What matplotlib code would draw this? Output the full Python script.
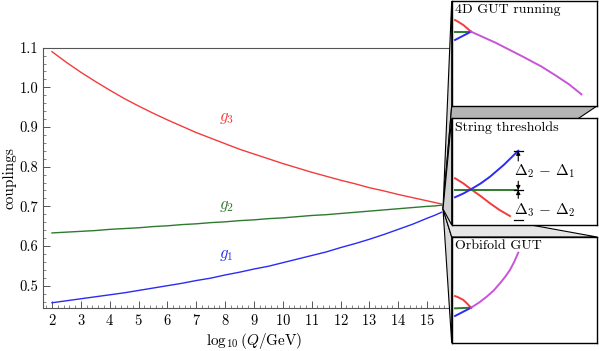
import numpy as np
import matplotlib
matplotlib.use("Agg")
import matplotlib.pyplot as plt
from matplotlib.patches import Polygon

plt.rcParams['font.family'] = ['cmr10', 'DejaVu Serif']
plt.rcParams['mathtext.fontset'] = 'cm'
plt.rcParams['axes.formatter.use_mathtext'] = True

# running couplings
logQ = [2, 2.5, 3, 3.5, 4, 4.5, 5, 5.5, 6, 6.5, 7, 7.5, 8, 8.5, 9, 9.5,
        10, 10.5, 11, 11.5, 12, 12.5, 13, 13.5, 14, 14.5, 15, 15.25, 15.5]
g3 = [1.090, 1.063, 1.038, 1.015, 0.993, 0.972, 0.953, 0.935, 0.918, 0.902,
      0.886, 0.872, 0.858, 0.844, 0.832, 0.820, 0.808, 0.797, 0.786, 0.776,
      0.766, 0.757, 0.747, 0.739, 0.730, 0.722, 0.714, 0.710, 0.706]
g2 = [0.633, 0.635, 0.637, 0.639, 0.642, 0.644, 0.646, 0.649, 0.651, 0.654,
      0.656, 0.659, 0.661, 0.664, 0.666, 0.669, 0.671, 0.674, 0.677, 0.679,
      0.682, 0.685, 0.688, 0.691, 0.694, 0.697, 0.700, 0.701, 0.703]
g1 = [0.457, 0.462, 0.467, 0.472, 0.477, 0.482, 0.488, 0.494, 0.500, 0.506,
      0.513, 0.519, 0.527, 0.534, 0.542, 0.549, 0.558, 0.567, 0.576, 0.585,
      0.596, 0.606, 0.617, 0.629, 0.642, 0.655, 0.670, 0.677, 0.685]

# inset sketches (fractions of each panel box)
p1_red_x, p1_red_y = [0.023, 0.05, 0.08, 0.105, 0.133], [0.819, 0.798, 0.771, 0.742, 0.708]
p1_grn_x, p1_grn_y = [0.023, 0.133], [0.708, 0.708]
p1_blu_x, p1_blu_y = [0.023, 0.133], [0.629, 0.708]
p1_mag_x = [0.133, 0.30, 0.49, 0.62, 0.721, 0.81, 0.893]
p1_mag_y = [0.708, 0.604, 0.470, 0.374, 0.286, 0.204, 0.111]

p2_red_x = [0.023, 0.08, 0.133, 0.20, 0.264, 0.33, 0.401]
p2_red_y = [0.438, 0.390, 0.335, 0.270, 0.203, 0.140, 0.084]
p2_grn_x, p2_grn_y = [0.023, 0.458], [0.328, 0.328]
p2_blu_x = [0.023, 0.08, 0.133, 0.20, 0.264, 0.36, 0.458]
p2_blu_y = [0.260, 0.295, 0.335, 0.390, 0.453, 0.565, 0.696]

p3_red_x, p3_red_y = [0.023, 0.05, 0.08, 0.105, 0.133], [0.443, 0.428, 0.406, 0.374, 0.333]
p3_grn_x, p3_grn_y = [0.023, 0.133], [0.327, 0.333]
p3_blu_x, p3_blu_y = [0.023, 0.133], [0.255, 0.333]
p3_mag_x = [0.133, 0.19, 0.241, 0.29, 0.332, 0.37, 0.401, 0.43, 0.458]
p3_mag_y = [0.333, 0.383, 0.437, 0.497, 0.563, 0.628, 0.689, 0.765, 0.852]

RED = '#f23c3c'
GRN = '#2f7a2f'
BLU = '#2b2bf5'
MAG = '#c855d8'

W, H = 599, 351
fig = plt.figure(figsize=(W / 100, H / 100), dpi=100)

def fbox(x0, y0, x1, y1):
    return [x0 / W, 1 - y1 / H, (x1 - x0) / W, (y1 - y0) / H]

ax = fig.add_axes(fbox(43, 47.7, 450, 308.3))
ax.plot(logQ, g3, color=RED, lw=1)
ax.plot(logQ, g2, color=GRN, lw=1)
ax.plot(logQ, g1, color=BLU, lw=1)
ax.text(8.05, 0.923, r'$g_3$', color=RED, fontsize=12, ha='center', va='center')
ax.text(8.05, 0.700, r'$g_2$', color=GRN, fontsize=12, ha='center', va='center')
ax.text(8.05, 0.577, r'$g_1$', color=BLU, fontsize=12, ha='center', va='center')
ax.set_xlim(1.688, 15.795)
ax.set_ylim(0.443, 1.1)
ax.set_xticks(range(2, 16))
ax.set_yticks([0.5, 0.6, 0.7, 0.8, 0.9, 1.0, 1.1])
ax.set_yticklabels(['0.5', '0.6', '0.7', '0.8', '0.9', '1.0', '1.1'])
ax.set_xticks(np.arange(1.8, 15.8, 0.2), minor=True)
ax.set_yticks(np.arange(0.46, 1.1, 0.02), minor=True)
ax.tick_params(which='both', direction='in', color='#555555', labelsize=10.5)
ax.tick_params(which='major', length=5, width=0.7)
ax.tick_params(which='minor', length=2.5, width=0.5)
ax.tick_params(top=False, right=False)
for s in ax.spines.values():
    s.set_color('#555555')
    s.set_linewidth(0.8)
ax.spines['right'].set_visible(False)
ax.set_xlabel(r'$\log_{10}(Q/\mathrm{GeV})$', fontsize=11)
ax.set_ylabel('couplings', fontsize=11)
ax.xaxis.set_label_coords(0.518, -0.088)
ax.yaxis.set_label_coords(-0.064, 0.5)

# zoom "pyramids" from the unification point to the three panels
ov = fig.add_axes([0, 0, 1, 1], zorder=5)
ov.set_xlim(0, W)
ov.set_ylim(H, 0)
ov.axis('off')
ov.patch.set_alpha(0)

apex = (443, 209)
px0, px1 = 451.7, 597
b1, b2, b3 = (1, 106), (118.3, 225), (237, 343)

def face(pts, fc):
    ov.add_patch(Polygon(pts, closed=True, fc=fc, ec='k', lw=0.8))

face([apex, (px0, b1[0]), (px0, b1[1])], '#d9d9d9')
face([apex, (px0, b1[1]), (px1, b1[1])], '#b5b5b5')
face([apex, (px0, b3[0]), (px0, b3[1])], '#d9d9d9')
face([apex, (px0, b3[0]), (px1, b3[0])], '#e6e6e6')
face([apex, (px0, b2[0]), (px0, b2[1])], '#d0d0d0')

def panel(y0, y1, z):
    pa = fig.add_axes(fbox(px0, y0, px1, y1), zorder=z)
    pa.set_xlim(0, 1)
    pa.set_ylim(0, 1)
    pa.set_xticks([])
    pa.set_yticks([])
    for s in pa.spines.values():
        s.set_color('k')
        s.set_linewidth(1)
    return pa

pa1 = panel(*b1, 6)
pa3 = panel(*b3, 6)
pa2 = panel(*b2, 7)

lw = 1.4
pa1.plot(p1_red_x, p1_red_y, color=RED, lw=lw)
pa1.plot(p1_grn_x, p1_grn_y, color=GRN, lw=lw)
pa1.plot(p1_blu_x, p1_blu_y, color=BLU, lw=lw)
pa1.plot(p1_mag_x, p1_mag_y, color=MAG, lw=lw)
pa1.text(0.02, 0.97, '4D GUT running', fontsize=10, va='top', ha='left')

pa2.plot(p2_red_x, p2_red_y, color=RED, lw=lw)
pa2.plot(p2_grn_x, p2_grn_y, color=GRN, lw=lw)
pa2.plot(p2_blu_x, p2_blu_y, color=BLU, lw=lw)
pa2.text(0.02, 0.97, 'String thresholds', fontsize=10, va='top', ha='left')
xa = 0.458
arr = dict(arrowstyle='-|>', lw=0.8, color='k', mutation_scale=6, shrinkA=0, shrinkB=0)
pa2.annotate('', xy=(xa, 0.696), xytext=(xa, 0.60), arrowprops=arr)
pa2.annotate('', xy=(xa, 0.328), xytext=(xa, 0.41), arrowprops=arr)
pa2.annotate('', xy=(xa, 0.328), xytext=(xa, 0.25), arrowprops=arr)
for yb in [0.696, 0.328, 0.05]:
    pa2.plot([xa - 0.03, xa + 0.03], [yb, yb], color='k', lw=0.9)
pa2.text(0.43, 0.50, r'$\Delta_2\,-\,\Delta_1$', fontsize=11, va='center', ha='left')
pa2.text(0.43, 0.14, r'$\Delta_3\,-\,\Delta_2$', fontsize=11, va='center', ha='left')

pa3.plot(p3_red_x, p3_red_y, color=RED, lw=lw)
pa3.plot(p3_grn_x, p3_grn_y, color=GRN, lw=lw)
pa3.plot(p3_blu_x, p3_blu_y, color=BLU, lw=lw)
pa3.plot(p3_mag_x, p3_mag_y, color=MAG, lw=lw)
pa3.text(0.02, 0.97, 'Orbifold GUT', fontsize=10, va='top', ha='left')

fig.savefig('out.png', dpi=100)
